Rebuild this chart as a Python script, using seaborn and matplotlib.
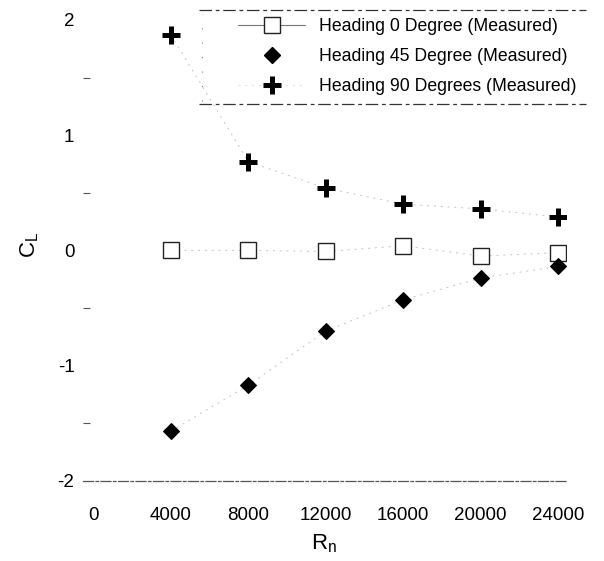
import pandas as pd
import seaborn as sns
import matplotlib.pyplot as plt
from matplotlib.lines import Line2D

# dados
rn = [4000, 8000, 12000, 16000, 20000, 24000]
cl_0 = [0.0, 0.0, -0.01, 0.04, -0.05, -0.02]
cl_45 = [-1.57, -1.17, -0.70, -0.43, -0.24, -0.14]
cl_90 = [1.87, 0.77, 0.54, 0.40, 0.36, 0.29]

nomes = ['Heading 0 Degree (Measured)', 'Heading 45 Degree (Measured)', 'Heading 90 Degrees (Measured)']
x_ticks = [0, 4000, 8000, 12000, 16000, 20000, 24000]
y_ticks = [-2, -1, 0, 1, 2]

df = pd.DataFrame({
    'Rn': rn * 3,
    'CL': cl_0 + cl_45 + cl_90,
    'serie': [nomes[0]] * 6 + [nomes[1]] * 6 + [nomes[2]] * 6,
})

sns.set_style('white')
plt.rcParams['font.family'] = ['Liberation Sans', 'DejaVu Sans']
plt.rcParams['axes.unicode_minus'] = False
plt.rcParams['text.color'] = 'black'
plt.rcParams['axes.labelcolor'] = 'black'
plt.rcParams['xtick.color'] = 'black'
plt.rcParams['ytick.color'] = 'black'

fig = plt.figure(figsize=(6.04, 5.61), dpi=100)
ax = fig.add_axes([0.137, 0.143, 0.8, 0.84])

estilos = {
    nomes[0]: dict(marker='s', markersize=11, markerfacecolor='white', markeredgecolor='#222222', markeredgewidth=1.0),
    nomes[1]: dict(marker='D', markersize=8.5, markerfacecolor='black', markeredgecolor='black'),
    nomes[2]: dict(marker='+', markersize=13, markeredgecolor='black', markeredgewidth=3.6),
}

for nome in nomes:
    sub = df[df['serie'] == nome]
    sns.lineplot(data=sub, x='Rn', y='CL', ax=ax, color='#c4c4c4', linewidth=0.7,
                 linestyle=(0, (2, 5)), label=nome, **estilos[nome])

ax.set_xlim(-550, 24400)
ax.set_ylim(-2.0, 2.09)
ax.set_xticks(x_ticks)
ax.set_yticks(y_ticks)
ax.set_yticks([-1.5, -0.5, 0.5, 1.5], minor=True)
ax.tick_params(axis='x', length=0, pad=19, labelsize=13.5)
ax.tick_params(axis='y', which='major', direction='in', length=7, width=0.8, color='#555555', pad=6, labelsize=13.5)
ax.tick_params(axis='y', which='minor', direction='in', length=5, width=0.8, color='#555555', left=True)

for lado in ['top', 'right', 'left']:
    ax.spines[lado].set_visible(False)
ax.spines['bottom'].set_color('#555555')
ax.spines['bottom'].set_linewidth(0.9)
ax.spines['bottom'].set_linestyle((0, (8, 2, 2, 2)))

ax.set_xlabel('R$_\\mathregular{n}$', fontsize=16, labelpad=6)
ax.set_ylabel('C$_\\mathregular{L}$', fontsize=16, labelpad=12)

# legenda
handles, labels = ax.get_legend_handles_labels()
handles[0] = Line2D([], [], color='#777777', linewidth=0.8, **estilos[nomes[0]])
handles[1] = Line2D([], [], color='none', **estilos[nomes[1]])
handles[2] = Line2D([], [], color='#dddddd', linewidth=0.7, linestyle=(0, (2, 5)), **estilos[nomes[2]])
leg = ax.legend(handles, labels, loc='upper left', bbox_to_anchor=(0.30, 1.005),
                frameon=False, fontsize=12.7, handlelength=3.8, labelspacing=0.75,
                borderaxespad=0.2, handletextpad=0.8)
fig.add_artist(Line2D([0.33, 0.97], [0.982, 0.982], color='#333333', linewidth=0.9, linestyle=(0, (10, 3, 3, 3))))
fig.add_artist(Line2D([0.33, 0.97], [0.815, 0.815], color='#333333', linewidth=0.9, linestyle=(0, (10, 3, 3, 3))))
fig.add_artist(Line2D([0.335, 0.335], [0.82, 0.975], color='#888888', linewidth=0.8, linestyle=(0, (1, 12))))

fig.savefig('out.png', dpi=100)
